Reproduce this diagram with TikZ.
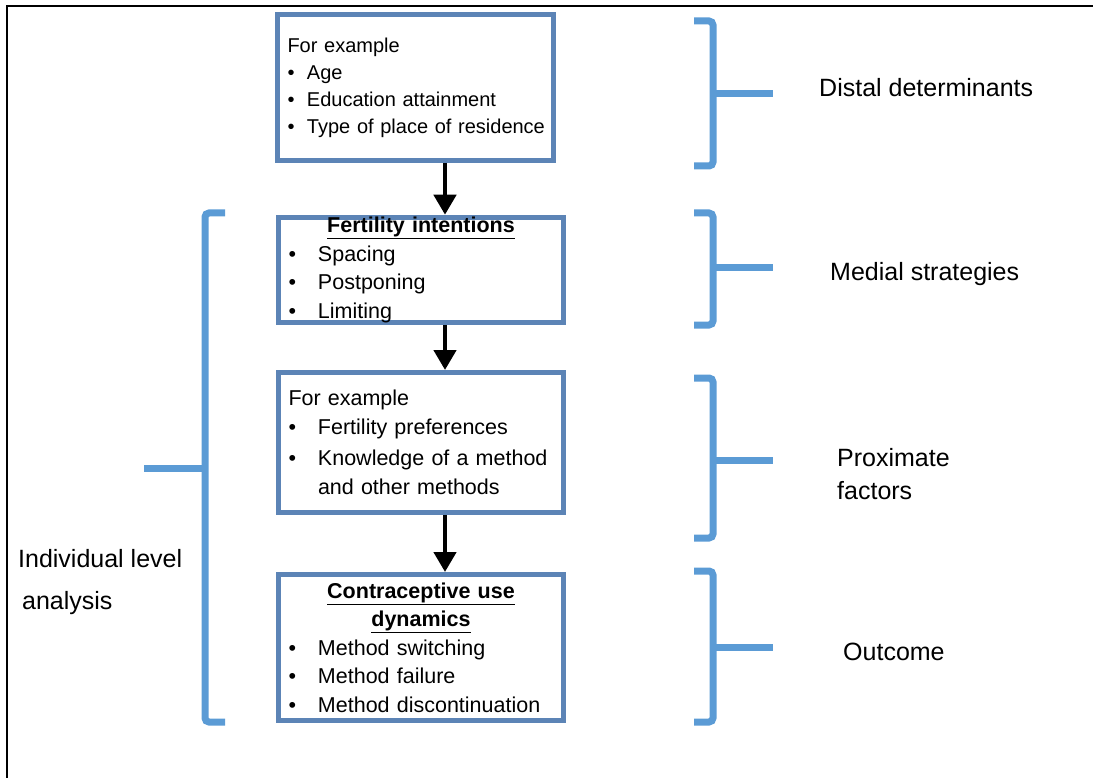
\documentclass[tikz,border=0pt]{standalone}
\usepackage{fontspec}
\setmainfont{Liberation Sans}
\usetikzlibrary{arrows.meta}
\definecolor{boxblue}{RGB}{92,132,182}
\definecolor{braceblue}{RGB}{91,155,213}

\newcommand{\bul}[1]{\makebox[#1][l]{\textbullet}}
\newcommand{\heading}[1]{\makebox[\linewidth][c]{\underline{\textbf{#1}}}}

\begin{document}
\begin{tikzpicture}[x=1pt,y=-1pt,
    box/.style={draw=boxblue,line width=5pt,inner xsep=10pt,inner ysep=0pt,align=left},
    brace/.style={draw=braceblue,line width=7pt,rounded corners=4pt},
    arr/.style={-{Triangle[width=22pt,length=20pt]},line width=4.5pt},
    lbl/.style={inner sep=0pt,font=\fontsize{25}{30}\selectfont}]
    \useasboundingbox (0,0) rectangle (1093,778);
    \draw [line width=2pt] (7,778) -- (7,6) -- (1093,6);
    \node[box,minimum width=276pt,minimum height=146pt,text width=256pt,font=\fontsize{20}{27}\selectfont] (demog) at (415.5,87.5) {For example\\ \bul{19.5pt}Age\\ \bul{19.5pt}Education attainment\\ \mbox{\bul{19.5pt}Type of place of residence}};
    \node[box,minimum width=285pt,minimum height=105pt,text width=265pt,font=\fontsize{21.5}{28.5}\selectfont] (intent) at (421,270) {\heading{Fertility intentions}\\ \bul{29.5pt}Spacing\\ \bul{29.5pt}Postponing\\ \bul{29.5pt}Limiting};
    \node[box,minimum width=285pt,minimum height=140pt,text width=265pt,font=\fontsize{21.5}{28.5}\selectfont] (proxbox) at (421,442.5) {For example\\ \bul{29.5pt}Fertility preferences\\[3pt] \bul{29.5pt}Knowledge of a method\\ \hspace*{29.5pt}and other methods};
    \node[box,minimum width=285pt,minimum height=146pt,text width=265pt,font=\fontsize{21.5}{28.5}\selectfont] (usedyn) at (421,647.5) {\heading{Contraceptive use}\\ \heading{dynamics}\\ \bul{29.5pt}Method switching\\ \bul{29.5pt}Method failure\\ \bul{29.5pt}Method discontinuation};
    \coordinate (ax) at (445,0);
    \draw [arr] (demog.south -| ax) -- (intent.north -| ax);
    \draw [arr] (intent.south -| ax) -- (proxbox.north -| ax);
    \draw [arr] (proxbox.south -| ax) -- (usedyn.north -| ax);
    % brackets on the right
    \draw [brace] (694,21) -- (713,21) -- (713,166) -- (694,166);
    \draw [brace] (713,94) -- (773,94);
    \draw [brace] (694,213) -- (713,213) -- (713,325) -- (694,325);
    \draw [brace] (713,268) -- (773,268);
    \draw [brace] (694,378) -- (713,378) -- (713,538) -- (694,538);
    \draw [brace] (713,460) -- (773,460);
    \draw [brace] (694,571) -- (713,571) -- (713,722) -- (694,722);
    \draw [brace] (713,647) -- (773,647);
    % bracket on the left
    \draw [brace] (225,213) -- (205,213) -- (205,722) -- (225,722);
    \draw [brace] (205,468) -- (144,468);
    \node[lbl,anchor=base west] (distal) at (819,97) {Distal determinants};
    \node[lbl,anchor=base west] (medial) at (830,280) {Medial strategies};
    \node[lbl,anchor=north west,align=left,font=\fontsize{25}{33}\selectfont] (proxim) at (837,448) {Proximate\\factors};
    \node[lbl,anchor=base west] (outcome) at (843,660) {Outcome};
    \node[lbl,anchor=north west,align=left,font=\fontsize{25}{42}\selectfont] (indiv) at (18,549) {Individual level\\ \hspace*{4pt}analysis};
\end{tikzpicture}
\end{document}
